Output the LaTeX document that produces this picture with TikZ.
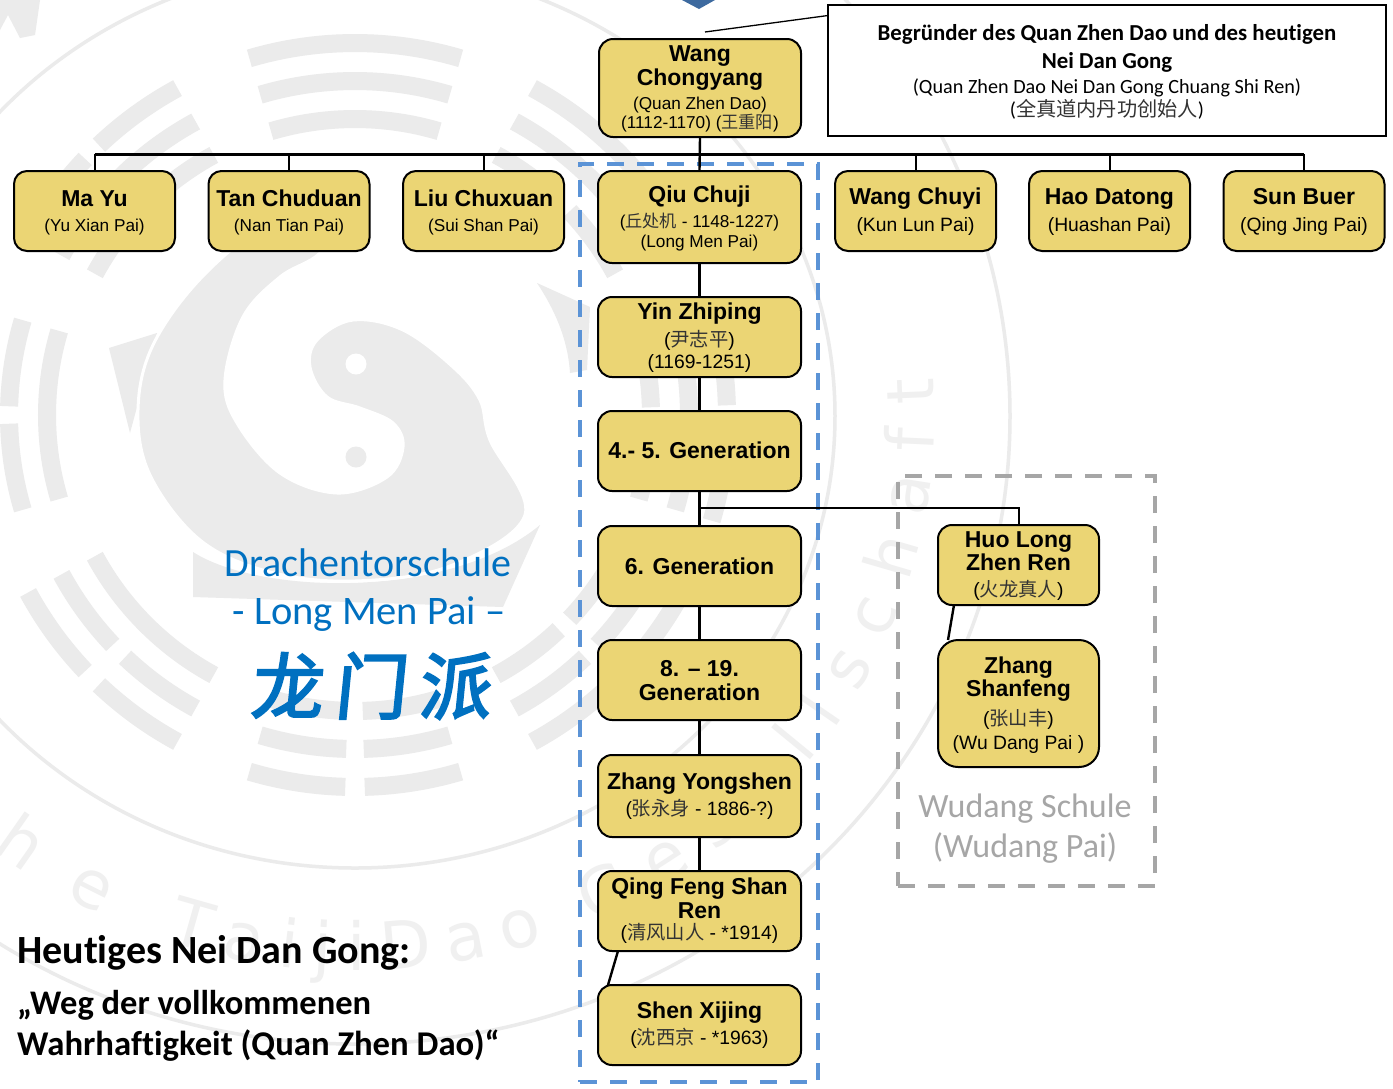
\documentclass[tikz,border=0pt]{standalone}
\usepackage{fontspec}
\usetikzlibrary{decorations.text}
\setmainfont{Liberation Sans}
\newfontfamily\crl[Ligatures=NoCommon]{Carlito}
\newfontfamily\cjk{Noto Sans CJK SC}
\newfontfamily\cjkbrush[FakeSlant=0.1,FakeBold=3]{Noto Sans CJK SC}
\newfontfamily\wmf{DejaVu Sans}
\definecolor{wm}{HTML}{EBEBEB}
\definecolor{wmtext}{HTML}{F0F0F0}
\definecolor{boxfill}{HTML}{EBD574}
\definecolor{dashblue}{HTML}{5B93D6}
\definecolor{dashgray}{HTML}{A6A6A6}
\definecolor{titleblue}{HTML}{0070C0}
\definecolor{cjkgray}{HTML}{333333}
\definecolor{diamond}{HTML}{3D6A9F}
\newcommand\stackrows[1]{\vbox{\offinterlineskip\halign{\hfil##\hfil\cr #1}}}
\newcommand\rw[2]{\vrule height #1pt depth 0pt width 0pt \smash{#2}\cr}
\newcommand\nmf{\bfseries\fontsize{23}{24}\selectfont}
\newcommand\smf{\fontsize{17.2}{19}\selectfont}
\newcommand\mdf{\fontsize{19.3}{21}\selectfont}
\newcommand\cj[1]{{\cjk\color{cjkgray}#1}}
\newcommand\tbar[3]{%
  \ifnum#3=1
    \draw[wm,line width=18pt] plot[domain={#1-16.5}:{#1-1.5},samples=15] ({355+#2*cos(\x)},{415-#2*sin(\x)});
    \draw[wm,line width=18pt] plot[domain={#1+1.5}:{#1+16.5},samples=15] ({355+#2*cos(\x)},{415-#2*sin(\x)});
  \else
    \draw[wm,line width=18pt] plot[domain={#1-16.5}:{#1+16.5},samples=25] ({355+#2*cos(\x)},{415-#2*sin(\x)});
  \fi}
\newcommand\trigram[4]{\tbar{#1}{372}{#2}\tbar{#1}{334}{#3}\tbar{#1}{296}{#4}}
\newcommand\wmword[3]{\path[decorate,decoration={text along path,text align={fit to path},
  text={|\wmf\fontsize{66}{70}\selectfont\color{wmtext}|#3}}]
  plot[domain=#1:#2,samples=60] ({355+580*cos(\x)},{416+555*sin(\x)});}
\tikzset{
  person/.style={draw=black,fill=boxfill,line width=2pt,rounded corners=14pt,inner sep=0pt,text=black},
  conn/.style={draw=black,line width=2.4pt},
  bus/.style={draw=black,line width=3pt},
  stub/.style={draw=black,line width=2pt},
  schoolbox/.style={rectangle,inner sep=0pt,line width=4pt,dash pattern=on 17pt off 13pt},
  wmring/.style={draw=wm,line width=3.5pt},
}
\begin{document}
\begin{tikzpicture}[x=1pt,y=-1pt]
\useasboundingbox (0,0) rectangle (1393,1088);
\clip (0,0) rectangle (1393,1088);
\fill[white] (0,0) rectangle (1393,1088);
% --- watermark ---
\trigram{90}{0}{0}{0}
\trigram{270}{1}{1}{1}
\begin{scope}[xshift=-12pt]\trigram{180}{0}{1}{0}\end{scope}
\trigram{0}{1}{0}{1}
\trigram{135}{1}{0}{0}
\trigram{225}{1}{1}{0}
\trigram{45}{0}{0}{1}
\trigram{315}{0}{1}{1}
\draw[wmring] (355,416) ellipse [x radius=480,y radius=452];
\draw[wmring] (355,416) ellipse [x radius=655,y radius=628];
\fill[wm] (109,348) -- (157,333) -- (130,433) -- cycle;
\fill[wm] (537,283) -- (590,307) -- (587,370) -- (570,373) .. controls (568,340) and (555,310) .. (537,283) -- cycle;
\fill[wm] (193,552) .. controls (260,595) and (450,600) .. (540,525) -- (503,607) -- (193,597) -- cycle;
\filldraw[fill=wm,draw=white,line width=3pt] plot[smooth cycle,tension=0.6] coordinates {
  (345,212) (268,226) (202,277) (153,345) (138,410) (150,475) (200,540) (270,572) (355,581)
  (450,566) (525,515) (490,440) (480,400) (453,367) (403,330) (353,320) (317,340) (310,367)
  (327,397) (360,408) (393,423) (403,447) (387,477) (337,493) (280,473) (237,423) (225,380)
  (243,317) (280,277) (320,253)};
\fill[white] (356,364) circle (10.5);
\fill[wm] (356,457) circle (10.5);
\fill[wm] (0,0) -- (40,0) -- (35,35) -- (20,38) -- (8,15) -- (0,30) -- cycle;
\wmword{180}{116}{Deutsche}
\wmword{109}{71}{TaijiDao}
\wmword{66}{-4}{Gesellschaft}
% --- top mark ---
\fill[diamond] (682,0) -- (699,9) -- (715,0) -- cycle;
% --- school frames ---
\node[schoolbox,draw=dashblue,minimum width=238pt,minimum height=918pt] (longmen) at (699,623) {};
\node[schoolbox,draw=dashgray,minimum width=257pt,minimum height=410pt] (wudang) at (1026.5,681) {};
% --- coordinates ---
\coordinate (busmid) at (699.5,154);
\coordinate (branch) at (699.5,508);
\coordinate (calltail) at (705,32);
\coordinate (callhead) at (828,15.5);
\coordinate (huoout) at (954,605);
\coordinate (zhangin) at (948,640);
\coordinate (qingout) at (618,951);
\coordinate (shenin) at (608,985);
% --- nodes ---
\node[draw=black,fill=white,line width=2pt,inner sep=0pt,minimum width=558pt,minimum height=131pt] (call) at (1107,70.5) {\stackrows{%
  \rw{35}{\crl\bfseries\fontsize{22.85}{24}\selectfont Begründer des Quan Zhen Dao und des heutigen}
  \rw{28}{\crl\bfseries\fontsize{22.85}{24}\selectfont Nei Dan Gong}
  \rw{25}{\crl\fontsize{20.2}{21}\selectfont (Quan Zhen Dao Nei Dan Gong Chuang Shi Ren)}
  \rw{23}{\crl\fontsize{20.2}{21}\selectfont (\cj{全真道内丹功创始人})}
  \rw{20}{}}};
\node[person,minimum width=202pt,minimum height=98pt] (wang) at (700,88) {\stackrows{%
  \rw{22}{\nmf Wang}\rw{24}{\nmf Chongyang}\rw{24}{\smf (Quan Zhen Dao)}\rw{19}{\smf (1112-1170) (\cj{王重阳})}\rw{9}{}}};
\node[person,rounded corners=13pt,minimum width=161pt,minimum height=80pt] (ma) at (94.5,211) {\stackrows{%
  \rw{35}{\nmf Ma Yu}\rw{25}{\smf (Yu Xian Pai)}\rw{20}{}}};
\node[person,rounded corners=13pt,minimum width=161pt,minimum height=80pt] (tan) at (289,211) {\stackrows{%
  \rw{35}{\nmf Tan Chuduan}\rw{25}{\smf (Nan Tian Pai)}\rw{20}{}}};
\node[person,rounded corners=13pt,minimum width=161pt,minimum height=80pt] (liu) at (483.5,211) {\stackrows{%
  \rw{35}{\nmf Liu Chuxuan}\rw{25}{\smf (Sui Shan Pai)}\rw{20}{}}};
\node[person,rounded corners=13pt,minimum width=161pt,minimum height=80pt] (chuyi) at (915.5,211) {\stackrows{%
  \rw{33}{\nmf Wang Chuyi}\rw{27}{\mdf (Kun Lun Pai)}\rw{20}{}}};
\node[person,rounded corners=13pt,minimum width=161pt,minimum height=80pt] (hao) at (1109.5,211) {\stackrows{%
  \rw{33}{\nmf Hao Datong}\rw{27}{\mdf (Huashan Pai)}\rw{20}{}}};
\node[person,rounded corners=13pt,minimum width=161pt,minimum height=80pt] (sun) at (1304,211) {\stackrows{%
  \rw{33}{\nmf Sun Buer}\rw{27}{\mdf (Qing Jing Pai)}\rw{20}{}}};
\node[person,minimum width=203pt,minimum height=92pt] (qiu) at (699.5,217) {\stackrows{%
  \rw{31}{\nmf Qiu Chuji}\rw{25}{\smf (\cj{丘处机} - 1148-1227)}\rw{20}{\smf (Long Men Pai)}\rw{16}{}}};
\node[person,minimum width=203pt,minimum height=80pt] (yin) at (699.5,337) {\stackrows{%
  \rw{22}{\nmf Yin Zhiping}\rw{27}{\mdf (\cj{尹志平})}\rw{22}{\mdf (1169-1251)}\rw{9}{}}};
\node[person,minimum width=203pt,minimum height=80pt] (gen45) at (699.5,451) {\stackrows{%
  \rw{47}{\nmf 4.- 5. Generation}\rw{33}{}}};
\node[person,minimum width=203pt,minimum height=80pt] (gen6) at (699.5,566) {\stackrows{%
  \rw{48}{\nmf 6. Generation}\rw{32}{}}};
\node[person,minimum width=203pt,minimum height=80pt] (gen819) at (699.5,680) {\stackrows{%
  \rw{36}{\nmf 8. – 19.}\rw{24}{\nmf Generation}\rw{20}{}}};
\node[person,minimum width=203pt,minimum height=82pt] (yongshen) at (699.5,796) {\stackrows{%
  \rw{34}{\nmf Zhang Yongshen}\rw{26}{\mdf (\cj{张永身} - 1886-?)}\rw{22}{}}};
\node[person,minimum width=203pt,minimum height=80pt] (qing) at (699.5,911) {\stackrows{%
  \rw{23}{\nmf Qing Feng Shan}\rw{24}{\nmf Ren}\rw{21}{\mdf (\cj{清风山人} - *1914)}\rw{12}{}}};
\node[person,minimum width=203pt,minimum height=80pt] (shen) at (699.5,1025) {\stackrows{%
  \rw{33}{\nmf Shen Xijing}\rw{26}{\mdf (\cj{沈西京} - *1963)}\rw{21}{}}};
\node[person,minimum width=161pt,minimum height=80pt] (huo) at (1018.5,565) {\stackrows{%
  \rw{22}{\nmf Huo Long}\rw{23}{\nmf Zhen Ren}\rw{26}{\mdf (\cj{火龙真人})}\rw{9}{}}};
\node[person,rounded corners=20pt,minimum width=161pt,minimum height=127pt] (shanfeng) at (1018.5,703.5) {\stackrows{%
  \rw{33}{\nmf Zhang}\rw{23}{\nmf Shanfeng}\rw{29}{\mdf (\cj{张山丰})}\rw{24}{\mdf (Wu Dang Pai )}\rw{18}{}}};
% --- connectors ---
\draw[bus] (ma.north |- busmid) -- (sun.north |- busmid);
\draw[stub] (ma.north) -- (ma.north |- busmid);
\draw[stub] (tan.north) -- (tan.north |- busmid);
\draw[stub] (liu.north) -- (liu.north |- busmid);
\draw[stub] (chuyi.north) -- (chuyi.north |- busmid);
\draw[stub] (hao.north) -- (hao.north |- busmid);
\draw[stub] (sun.north) -- (sun.north |- busmid);
\draw[conn] (wang.south) -- (qiu.north);
\draw[conn] (qiu.south) -- (yin.north);
\draw[conn] (yin.south) -- (gen45.north);
\draw[conn] (gen45.south) -- (gen6.north);
\draw[conn] (gen6.south) -- (gen819.north);
\draw[conn] (gen819.south) -- (yongshen.north);
\draw[conn] (yongshen.south) -- (qing.north);
\draw[conn] (qingout) -- (shenin);
\draw[stub] (branch) -| (huo.north);
\draw[conn] (huoout) -- (zhangin);
\draw[draw=black,line width=1.3pt] (calltail) -- (callhead);
% --- free text ---
\node[inner sep=0pt,text=titleblue,font=\crl\fontsize{40}{42}\selectfont] (t1) at (368,563) {Drachentorschule};
\node[inner sep=0pt,text=titleblue,font=\crl\fontsize{40.5}{42}\selectfont] (t2) at (369,614) {- Long Men Pai –};
\node[inner sep=0pt,text=titleblue,font=\cjkbrush\fontsize{72}{76}\selectfont] (t3) at (370,686) {龙\hspace{12pt}门\hspace{12pt}派};
\node[inner sep=0pt,text=dashgray,font=\crl\fontsize{34}{36}\selectfont] (w1) at (1025,809) {Wudang Schule};
\node[inner sep=0pt,text=dashgray,font=\crl\fontsize{34}{36}\selectfont] (w2) at (1025,848) {(Wudang Pai)};
\node[inner sep=0pt,anchor=base west,font=\crl\bfseries\fontsize{40}{42}\selectfont] (h1) at (17,963) {Heutiges Nei Dan Gong:};
\node[inner sep=0pt,anchor=base west,font=\crl\bfseries\fontsize{34.5}{36}\selectfont] (h2) at (17,1014) {„Weg der vollkommenen};
\node[inner sep=0pt,anchor=base west,font=\crl\bfseries\fontsize{34.7}{36}\selectfont] (h3) at (17,1055) {Wahrhaftigkeit (Quan Zhen Dao)“};
\end{tikzpicture}
\end{document}
